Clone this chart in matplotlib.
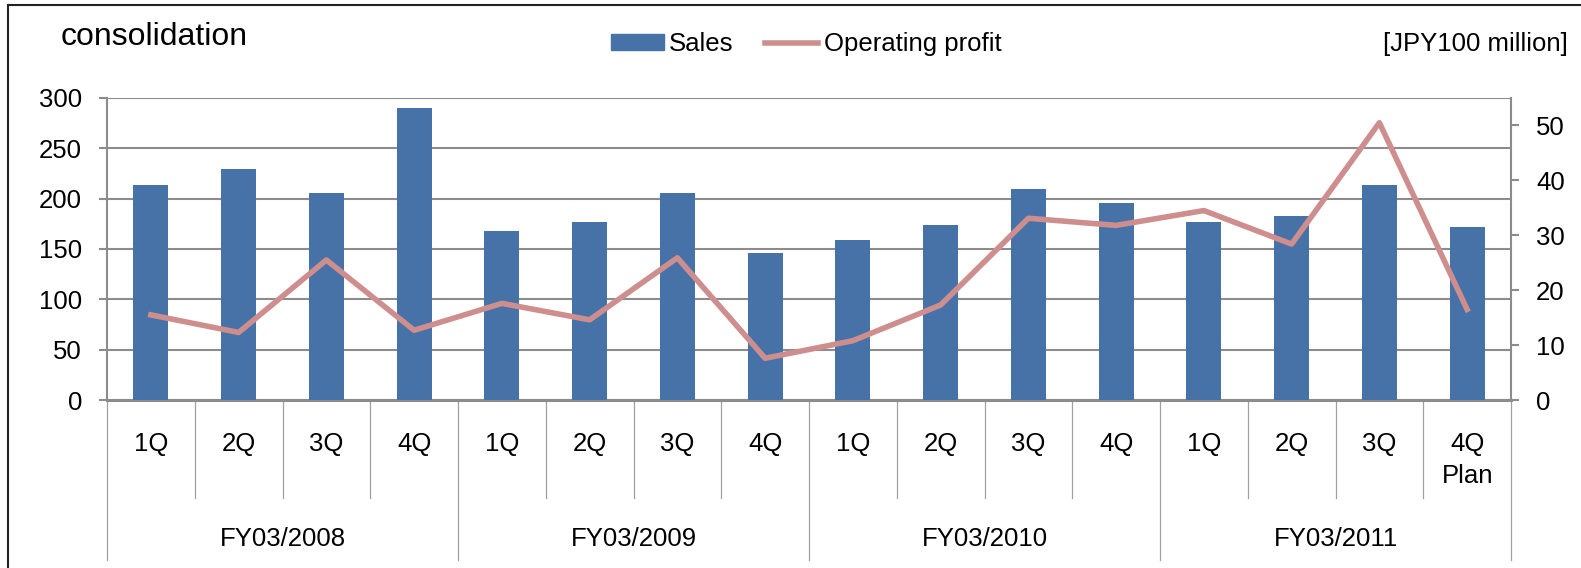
import matplotlib.pyplot as plt
from matplotlib.lines import Line2D
from matplotlib.patches import Patch

plt.rcParams['font.family'] = ['Liberation Sans', 'DejaVu Sans']
plt.rcParams['font.size'] = 18.5

years = ["FY03/2008", "FY03/2009", "FY03/2010", "FY03/2011"]
quarters = ["1Q", "2Q", "3Q", "4Q", "1Q", "2Q", "3Q", "4Q",
            "1Q", "2Q", "3Q", "4Q", "1Q", "2Q", "3Q", "4Q\nPlan"]
sales = [214, 229, 206, 290, 168, 177, 206, 146,
         159, 174, 210, 196, 177, 183, 214, 172]
op_profit = [15.5, 12.3, 25.5, 12.7, 17.6, 14.6, 25.9, 7.6,
             10.8, 17.3, 33.1, 31.8, 34.5, 28.4, 50.5, 16.5]

W, H = 1581, 568
fig = plt.figure(figsize=(W / 100, H / 100), dpi=100)
x0, x1, ytop, ybot = 107, 1511, 98, 400
ax = fig.add_axes([x0 / W, 1 - ybot / H, (x1 - x0) / W, (ybot - ytop) / H])

grid_c = '#8c8c8c'
bar_c = '#4672a8'
line_c = '#cf8e8e'

xs = list(range(len(sales)))
ax.bar(xs, sales, width=0.4, color=bar_c, zorder=3)
ax.set_xlim(-0.5, len(sales) - 0.5)
ax.set_ylim(0, 300)
ax.set_yticks(range(0, 301, 50))
ax.yaxis.grid(True, color=grid_c, lw=1.5, zorder=0)
ax.set_xticks([])
for s in ['top', 'right']:
    ax.spines[s].set_visible(False)
ax.spines['left'].set_color(grid_c)
ax.spines['left'].set_linewidth(1.5)
ax.spines['bottom'].set_color(grid_c)
ax.spines['bottom'].set_linewidth(2.2)
ax.tick_params(axis='y', length=6, width=1.5, color=grid_c, pad=12)

ax2 = ax.twinx()
ax2.plot(xs, op_profit, color=line_c, lw=4, zorder=4)
ax2.set_ylim(0, 55)
ax2.set_yticks(range(0, 51, 10))
for s in ['top', 'left', 'bottom']:
    ax2.spines[s].set_visible(False)
ax2.spines['right'].set_color(grid_c)
ax2.spines['right'].set_linewidth(1.5)
ax2.tick_params(axis='y', length=6, width=1.5, color=grid_c, pad=12)
ax.set_zorder(1)
ax2.set_zorder(2)
ax2.patch.set_visible(False)

# category axis: quarter and year separators and labels
tr = ax.get_xaxis_transform()
for i in range(len(sales) + 1):
    xb = i - 0.5
    yend = -0.53 if i % 4 == 0 else -0.3235
    ax.plot([xb, xb], [0, yend], color='#a0a0a0', lw=0.9, transform=tr, clip_on=False)
for i, q in enumerate(quarters):
    for k, part in enumerate(q.split('\n')):
        ax.text(i, -0.1457 - 0.107 * k, part, transform=tr, ha='center', va='center')
for j, yr in enumerate(years):
    ax.text(j * 4 + 1.5, -0.46, yr, transform=tr, ha='center', va='center')

fig.text(61 / W, 1 - 45 / H, "consolidation", ha='left', va='baseline', fontsize=23)
fig.text(1568 / W, 1 - 51 / H, "[JPY100 million]", ha='right', va='baseline')

handles = [Patch(color=bar_c, label='Sales'),
           Line2D([], [], color=line_c, lw=4, label='Operating profit')]
fig.legend(handles=handles, loc='center', bbox_to_anchor=(806 / W, 1 - 44 / H),
           ncol=2, frameon=False, handlelength=2.06, handleheight=0.55,
           handletextpad=0.2, columnspacing=1.25, borderpad=0)

# outer frame
fig.add_artist(Line2D([8 / W, 8 / W], [0, 1 - 5 / H], color='#222222', lw=1.5))
fig.add_artist(Line2D([8 / W, 1], [1 - 5 / H, 1 - 5 / H], color='#222222', lw=1.5))

fig.savefig('out.png', dpi=100)
